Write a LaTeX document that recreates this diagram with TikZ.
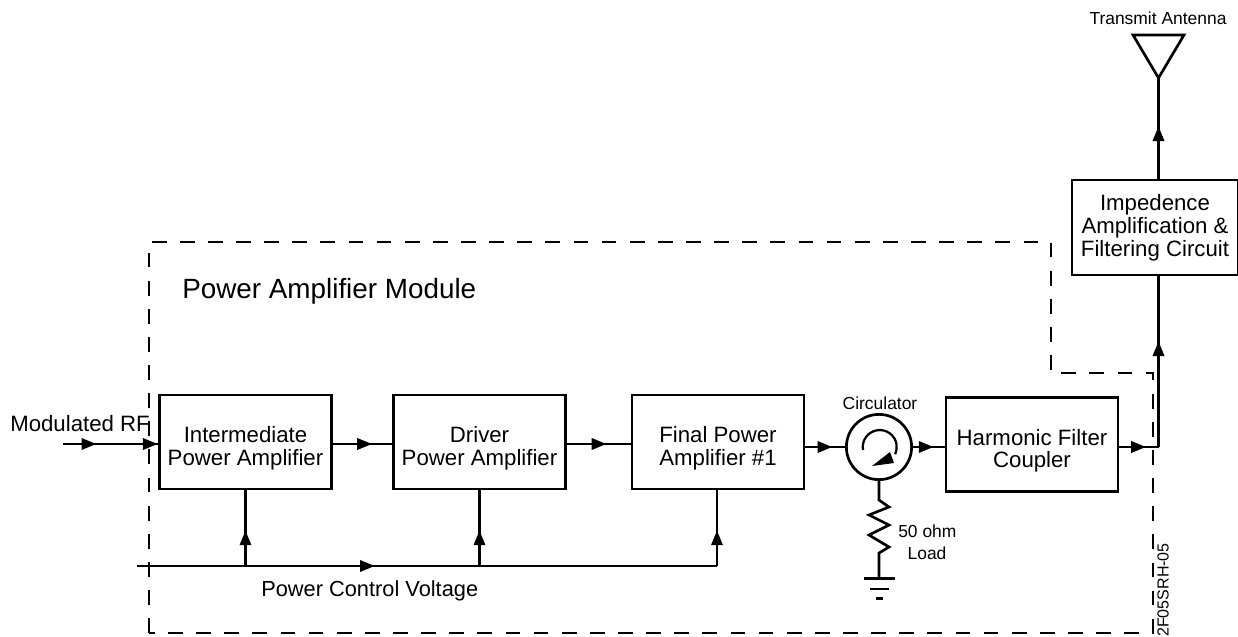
\documentclass[tikz,border=0pt]{standalone}
\usepackage{fontspec}
\setmainfont{Liberation Sans}
\usetikzlibrary{positioning,arrows.meta,decorations.markings}
\newcommand{\blockfont}{\fontsize{15.8}{16}\selectfont}
\newcommand{\smallfont}{\fontsize{12.4}{16}\selectfont}
\newcommand{\dropline}{\rule{0pt}{20pt}}
\tikzset{
  block/.style={draw,line width=1.9pt,align=center,inner sep=0pt,font=\blockfont},
  tag/.style={inner sep=0pt,align=center,font=\blockfont},
  smalltag/.style={inner sep=0pt,align=center,font=\smallfont},
  wire/.style={line width=1.9pt},
  midtip/.style={postaction={decorate,decoration={markings,
      mark=at position #1 with {\arrow{Triangle[length=10.5pt,width=8pt]}}}}},
  frame/.style={line width=0.8pt,dash pattern=on 10.5pt off 9.5pt},
}
\begin{document}
\begin{tikzpicture}[x=0.025cm,y=-0.025cm]
    \useasboundingbox (0,0) rectangle (1238,637);
    % Module outline
    \draw[frame] (149,633) -- (149,242) -- (1051,242) -- (1051,373) -- (1153,373) -- (1153,633) -- cycle;
    \node[tag,font=\fontsize{19.8}{20}\selectfont,anchor=west] (module) at (182,291) {Power Amplifier Module};
    % Amplifier chain
    \node[block,minimum width=4.3cm,minimum height=2.35cm] (ipa) at (245.5,442) {\dropline Intermediate\\Power Amplifier};
    \node[block,minimum width=4.3cm,minimum height=2.35cm] (dpa) at (479.5,442) {\dropline Driver\\Power Amplifier};
    \node[block,minimum width=4.3cm,minimum height=2.35cm] (fpa) at (718,442) {\dropline Final Power\\Amplifier \#1};
    \node[draw,circle,line width=1.9pt,minimum size=1.63cm,inner sep=0pt] (circ) at (879,447) {};
    \node[block,minimum width=4.3cm,minimum height=2.35cm] (hfc) at (1032,444.5) {\dropline Harmonic Filter\\Coupler};
    \node[block,minimum width=4.15cm,minimum height=2.38cm] (imp) at (1155,227.5) {Impedence\\[0.4pt]Amplification \&\\[0.4pt]Filtering Circuit};
    \coordinate (rfin) at (63,444);
    \coordinate (turn) at (1158.5,447);
    \coordinate (ant) at (1158.5,78);
    \coordinate (busin) at (137,566);
    \coordinate (busend) at (717,566);
    % Signal path
    \draw[wire,midtip=0.35,midtip=0.995] (rfin) -- (rfin -| ipa.west);
    \draw[wire,midtip=0.66] (ipa.east |- rfin) -- (dpa.west |- rfin);
    \draw[wire,midtip=0.62] (dpa.east |- rfin) -- (fpa.west |- rfin);
    \draw[wire,midtip=0.68] (fpa.east |- circ.west) -- (circ.west);
    \draw[wire,midtip=0.65] (circ.east) -- (circ.east -| hfc.west);
    \draw[wire,midtip=0.68] (hfc.east |- turn) -- (turn);
    \draw[wire,midtip=0.62] (turn) -- (imp.south -| turn);
    \draw[wire,midtip=0.52] (imp.north -| turn) -- (ant);
    % Power control
    \draw[wire,midtip=0.41] (busin) -- (busend);
    \draw[wire,midtip=0.47] (ipa.south |- busin) -- (ipa.south);
    \draw[wire,midtip=0.47] (dpa.south |- busin) -- (dpa.south);
    \draw[wire,midtip=0.47] (busend) -- (busend |- fpa.south);
    % Antenna
    \draw[wire,line join=miter] (1133,35) -- (1184,35) -- (ant) -- cycle;
    % Circulator
    \draw[line width=1.6pt] (863,450) arc[start angle=170,end angle=385,radius=17];
    \fill (872,466) -- (890,452) -- (894,463) -- cycle;
    % Load
    \draw[wire,line join=miter] (circ.south) -- (879,500) -- (889,507) -- (869,515) -- (889,525) -- (869,535) -- (889,547) -- (879,553) -- (879,578) coordinate (gnd);
    \draw[wire] (864,578.5) -- (895,578.5);
    \draw[wire] (870,589) -- (889,589);
    \draw[wire] (876,598.5) -- (883,598.5);
    % Labels
    \node[tag,anchor=west] (rflabel) at (10,424) {Modulated RF};
    \node[tag,font=\fontsize{15.5}{16}\selectfont,anchor=west] (pclabel) at (261,591) {Power Control Voltage};
    \node[smalltag] (circlabel) at (880,403) {Circulator};
    \node[smalltag] (antlabel) at (1158,18) {Transmit Antenna};
    \node[smalltag,anchor=west] (ohmlabel) at (898,531) {50 ohm};
    \node[smalltag] (loadlabel) at (927,553) {Load};
    \node[smalltag,font=\fontsize{11.4}{12}\selectfont,rotate=90] (figid) at (1163,590) {2F05SRH-05};
  \end{tikzpicture}
\end{document}
